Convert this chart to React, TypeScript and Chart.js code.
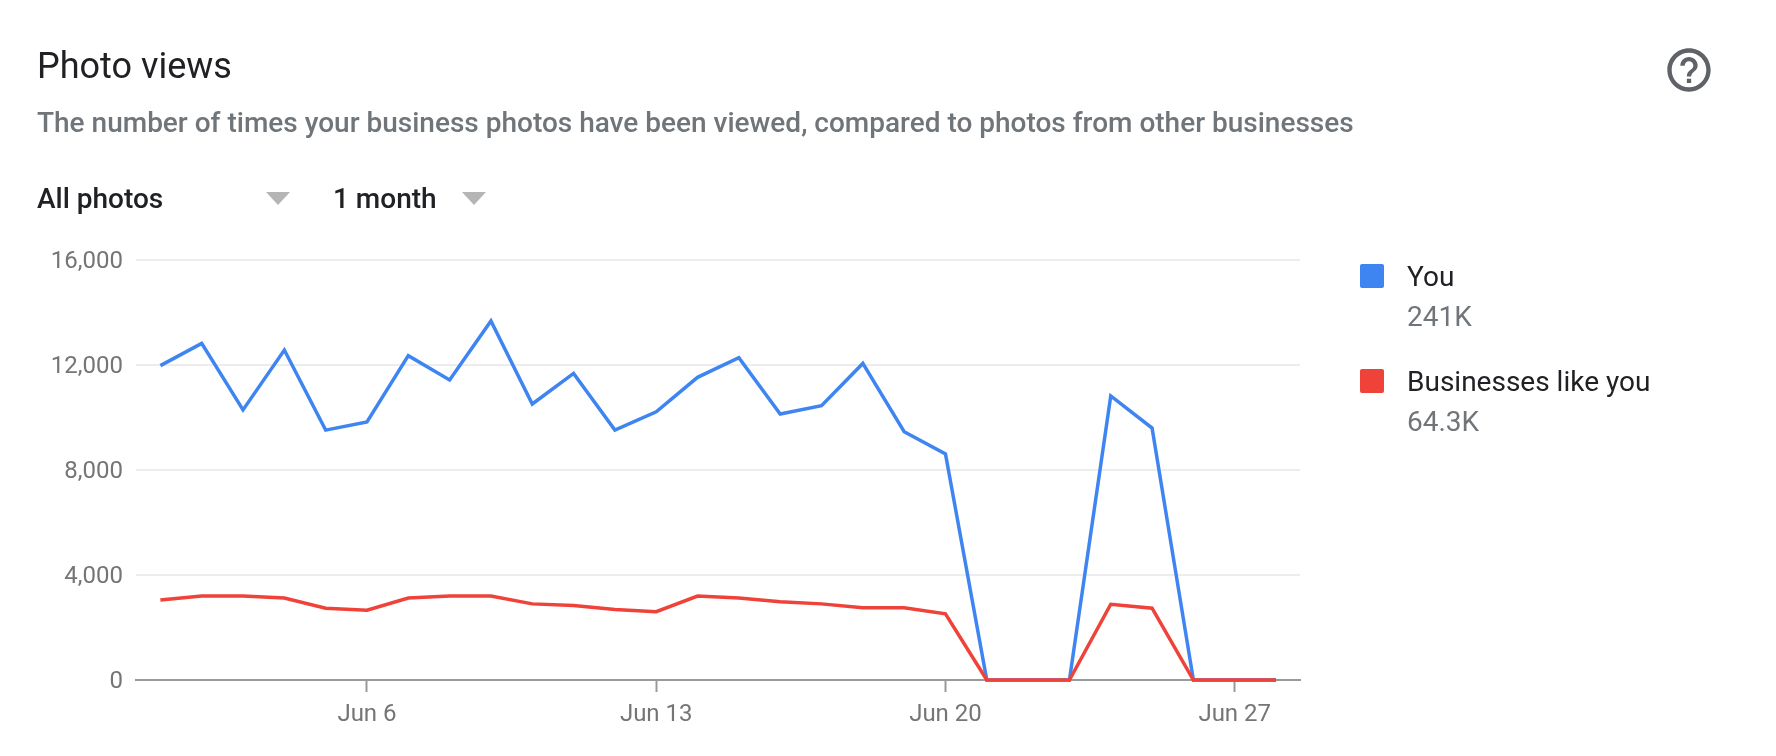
import React, { useEffect, useRef } from "react";
import { Chart, registerables } from "chart.js";

Chart.register(...registerables);

const dayLabels = [
  "Jun 1", "Jun 2", "Jun 3", "Jun 4", "Jun 5", "Jun 6", "Jun 7",
  "Jun 8", "Jun 9", "Jun 10", "Jun 11", "Jun 12", "Jun 13", "Jun 14",
  "Jun 15", "Jun 16", "Jun 17", "Jun 18", "Jun 19", "Jun 20", "Jun 21",
  "Jun 22", "Jun 23", "Jun 24", "Jun 25", "Jun 26", "Jun 27", "Jun 28",
];
const shownDayIndexes = [5, 12, 19, 26];
const youValues = [
  11975, 12825, 10290, 12570, 9520, 9830, 12355, 11430, 13675, 10515,
  11680, 9520, 10220, 11530, 12280, 10130, 10450, 12060, 9460, 8610,
  0, 0, 0, 10820, 9600, 0, 0, 0,
];
const businessValues = [
  3050, 3200, 3200, 3125, 2735, 2660, 3125, 3200, 3200, 2900,
  2840, 2690, 2600, 3200, 3125, 2980, 2900, 2750, 2750, 2520,
  0, 0, 0, 2885, 2735, 0, 0, 0,
];
const yTicks = [0, 4000, 8000, 12000, 16000];
const legendNames = ["You", "Businesses like you"];
const legendTotals = ["241K", "64.3K"];

const BLUE = "#3f85f2";
const RED = "#ef4238";
const FONT = "Roboto, sans-serif";

const toPoints = (values: number[]) => values.map((y, x) => ({ x, y }));

function Text(props: {
  x: number;
  y: number;
  size: number;
  color: string;
  weight?: number;
  children: React.ReactNode;
}) {
  return (
    <div
      style={{
        position: "absolute",
        left: props.x,
        top: props.y,
        fontFamily: FONT,
        fontSize: props.size,
        fontWeight: props.weight ?? 400,
        color: props.color,
        lineHeight: "40px",
        whiteSpace: "nowrap",
      }}
    >
      {props.children}
    </div>
  );
}

function Caret({ x, y }: { x: number; y: number }) {
  return (
    <div
      style={{
        position: "absolute",
        left: x,
        top: y,
        width: 0,
        height: 0,
        borderLeft: "12px solid transparent",
        borderRight: "12px solid transparent",
        borderTop: "13px solid #b5b5b5",
      }}
    />
  );
}

export default function App() {
  const ref = useRef<HTMLCanvasElement>(null);

  useEffect(() => {
    const chart = new Chart(ref.current!, {
      type: "line",
      data: {
        datasets: [
          {
            label: legendNames[0],
            data: toPoints(youValues),
            borderColor: BLUE,
            backgroundColor: BLUE,
            borderWidth: 3.5,
            pointRadius: 0,
            tension: 0,
            borderJoinStyle: "miter",
            clip: false,
            order: 2,
          },
          {
            label: legendNames[1],
            data: toPoints(businessValues),
            borderColor: RED,
            backgroundColor: RED,
            borderWidth: 3.5,
            pointRadius: 0,
            tension: 0,
            borderJoinStyle: "miter",
            clip: false,
            order: 1,
          },
        ],
      },
      options: {
        responsive: false,
        animation: false,
        layout: { padding: { left: 0, right: 476, top: 260, bottom: 0 } },
        plugins: { legend: { display: false }, tooltip: { enabled: false } },
        scales: {
          x: {
            type: "linear",
            min: -0.59,
            max: 27.58,
            afterBuildTicks: (scale: any) => {
              scale.ticks = shownDayIndexes.map((value) => ({ value }));
            },
            afterFit: (scale: any) => {
              scale.height = 76;
            },
            border: { color: "#9a9a9a", width: 2 },
            grid: {
              drawOnChartArea: false,
              drawTicks: true,
              tickLength: 12,
              tickColor: "#9a9a9a",
              tickWidth: 2,
            },
            ticks: {
              autoSkip: false,
              maxRotation: 0,
              padding: 9,
              color: "#757575",
              font: { family: FONT, size: 24 },
              callback: (value: any) => dayLabels[value as number],
            },
          },
          y: {
            min: 0,
            max: 16000,
            afterBuildTicks: (scale: any) => {
              scale.ticks = yTicks.map((value) => ({ value }));
            },
            afterFit: (scale: any) => {
              scale.width = 136;
            },
            border: { display: false },
            grid: { color: "#ededed", lineWidth: 2, drawTicks: false, tickLength: 0 },
            ticks: {
              padding: 13,
              labelOffset: 2,
              color: "#757575",
              font: { family: FONT, size: 24 },
              callback: (value: any) => Number(value).toLocaleString("en-US"),
            },
          },
        },
      },
    } as any);
    return () => chart.destroy();
  }, []);

  return (
    <div
      style={{
        position: "absolute",
        left: 0,
        top: 0,
        width: 1776,
        height: 756,
        overflow: "hidden",
        background: "#fff",
      }}
    >
      <canvas
        ref={ref}
        width={1776}
        height={756}
        style={{ position: "absolute", left: 0, top: 0, width: 1776, height: 756 }}
      />
      <Text x={37} y={46} size={36} color="#202124">Photo views</Text>
      <Text x={37} y={103} size={28} weight={500} color="#70757a">
        The number of times your business photos have been viewed, compared to photos from other businesses
      </Text>
      <Text x={37} y={179} size={28} weight={500} color="#202124">All photos</Text>
      <Caret x={266} y={192} />
      <Text x={333} y={179} size={28} weight={500} color="#202124">1 month</Text>
      <Caret x={462} y={192} />
      <svg
        viewBox="0 0 24 24"
        width={52}
        height={52}
        style={{ position: "absolute", left: 1663, top: 44 }}
      >
        <path
          fill="#5f6368"
          d="M11 18h2v-2h-2v2zm1-16C6.48 2 2 6.48 2 12s4.48 10 10 10 10-4.48 10-10S17.52 2 12 2zm0 18c-4.41 0-8-3.59-8-8s3.59-8 8-8 8 3.59 8 8-3.59 8-8 8zm0-14c-2.21 0-4 1.79-4 4h2c0-1.1.9-2 2-2s2 .9 2 2c0 2-3 1.75-3 5h2c0-2.25 3-2.5 3-5 0-2.21-1.79-4-4-4z"
        />
      </svg>
      {[0, 1].map((i) => (
        <React.Fragment key={i}>
          <div
            style={{
              position: "absolute",
              left: 1360,
              top: 264 + i * 105,
              width: 24,
              height: 24,
              borderRadius: 2,
              background: i === 0 ? BLUE : RED,
            }}
          />
          <Text x={1407} y={257 + i * 105} size={28} color="#202124">{legendNames[i]}</Text>
          <Text x={1407} y={297 + i * 105} size={28} color="#70757a">{legendTotals[i]}</Text>
        </React.Fragment>
      ))}
    </div>
  );
}
